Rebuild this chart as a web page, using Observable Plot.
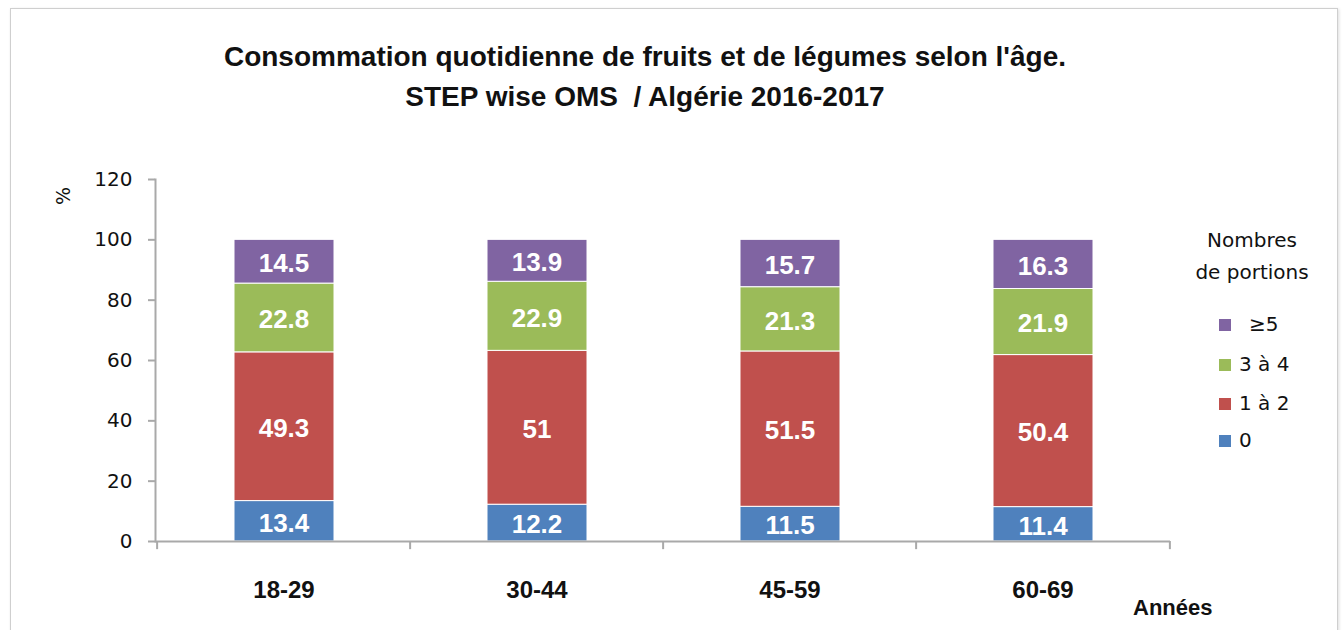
<!DOCTYPE html>
<html><head><meta charset="utf-8">
<script src="https://cdn.jsdelivr.net/npm/d3@7"></script>
<script src="https://cdn.jsdelivr.net/npm/@observablehq/plot@0.6"></script>
<style>
body{margin:0;background:#fff;}
#wrap{position:relative;width:1344px;height:630px;overflow:hidden;background:#fff;}
#frame{position:absolute;left:10px;top:8px;width:1326px;height:640px;border:1.5px solid #cfcfcf;box-shadow:1px 1px 3px #ddd;}
.title{position:absolute;left:0;width:1290px;text-align:center;font-family:'Liberation Sans',Arial,sans-serif;font-weight:bold;font-size:28px;color:#111;letter-spacing:0px;}
#plot{position:absolute;left:0;top:150px;}
.leg{position:absolute;font-family:'DejaVu Sans',sans-serif;font-size:20px;color:#111;}
.sw{position:absolute;width:12px;height:12px;}
</style></head>
<body><div id="wrap"><div id="frame"></div>
<div class="title" style="top:41px">Consommation quotidienne de fruits et de légumes selon l'âge.</div>
<div class="title" style="top:81px">STEP wise OMS &nbsp;/ Algérie 2016-2017</div>
<div id="plot"></div>
<div style="position:absolute;left:54px;top:185px;transform:rotate(-90deg);font-family:'DejaVu Sans',sans-serif;font-size:19px;color:#111">%</div>
<div style="position:absolute;left:1133px;top:595px;font-family:'Liberation Sans',Arial,sans-serif;font-weight:bold;font-size:22px;color:#111">Années</div>
<div id="legend"></div>
</div>
<script>
const ages = ["18-29", "30-44", "45-59", "60-69"];
const portions = ["0", "1 à 2", "3 à 4", "≥5"];
const colors = ["#4F81BD", "#C0504D", "#9BBB59", "#8064A2"];
const v0 = [13.4, 12.2, 11.5, 11.4];
const v12 = [49.3, 51, 51.5, 50.4];
const v34 = [22.8, 22.9, 21.3, 21.9];
const v5 = [14.5, 13.9, 15.7, 16.3];
const yTicks = [0, 20, 40, 60, 80, 100, 120];
const series = [v0, v12, v34, v5];

const data = [];
ages.forEach((a, i) => series.forEach((s, j) => data.push({age: a, portion: portions[j], value: s[i]})));

const W = 1344, ML = 155, MR = 174;
const bw = (W - ML - MR) / ages.length;
const axisGray = "#a9a9a9";

const chart = Plot.plot({
  width: W, height: 480,
  marginTop: 29, marginBottom: 89, marginLeft: ML, marginRight: MR,
  x: {type: "band", domain: ages, padding: 0},
  y: {domain: [0, 120]},
  color: {domain: portions, range: colors},
  style: {background: "transparent"},
  marks: [
    Plot.barY(data, {x: "age", y: "value", fill: "portion", insetLeft: 77, insetRight: 76, stroke: "white", strokeWidth: 1}),
    Plot.text(data, Plot.stackY({x: "age", y: "value", text: d => String(d.value), fill: "white", fontSize: 26, fontWeight: "bold", fontFamily: "'Liberation Sans', Arial, sans-serif", dy: 2})),
    Plot.ruleY([0], {stroke: axisGray, strokeWidth: 2}),
    Plot.frame({anchor: "left", stroke: axisGray, strokeWidth: 2}),
    Plot.ruleX(ages, {x: d => d, dx: -bw / 2, y1: 0, y2: -2.7, stroke: axisGray, strokeWidth: 2}),
    Plot.ruleX([ages[ages.length - 1]], {x: d => d, dx: bw / 2, y1: 0, y2: -2.7, stroke: axisGray, strokeWidth: 2}),
    Plot.axisY({ticks: yTicks, tickSize: 7, tickPadding: 16, stroke: axisGray, strokeWidth: 2, fill: "#111", fontSize: 20, fontFamily: "'DejaVu Sans', sans-serif", label: null}),
    Plot.axisX({tickSize: 0, tickPadding: 39, fill: "#111", fontSize: 24, fontWeight: "bold", fontFamily: "'Liberation Sans', Arial, sans-serif", label: null})
  ]
});
document.getElementById("plot").appendChild(chart);

const leg = document.getElementById("legend");
let html = `<div class="leg" style="left:1178px;top:224px;width:148px;text-align:center;line-height:32px">Nombres<br>de portions</div>`;
const rev = portions.map((p, i) => [p, colors[i]]).reverse();
const tops = [312, 352, 391, 428];
rev.forEach(([p, c], k) => {
  html += `<div class="sw" style="left:1219px;top:${tops[k] + 7}px;background:${c}"></div>`;
  html += `<div class="leg" style="left:${p === "≥5" ? 1249 : 1239}px;top:${tops[k]}px">${p}</div>`;
});
leg.innerHTML = html;
</script>
</body></html>
